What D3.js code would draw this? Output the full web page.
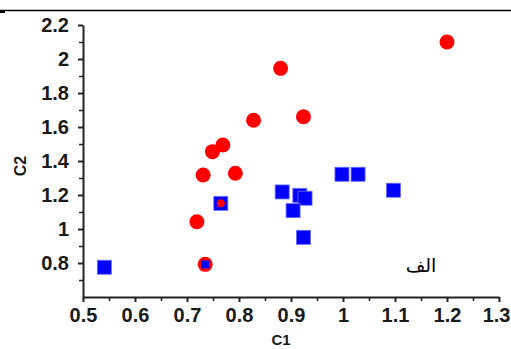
<!DOCTYPE html>
<html>
<head>
<meta charset="utf-8">
<script src="https://cdn.jsdelivr.net/npm/d3@7/dist/d3.min.js"></script>
<style>
  body { margin: 0; background: #fff; }
  svg { display: block; }
</style>
</head>
<body>
<div id="chrt"></div>
<script>
// data
const redPoints = [
  [1.2, 2.1], [0.88, 1.945], [0.924, 1.66], [0.828, 1.64], [0.769, 1.494], [0.749, 1.455],
  [0.731, 1.318], [0.793, 1.328], [0.719, 1.043], [0.735, 0.792]
];
const bluePoints = [
  [0.541, 0.775], [0.765, 1.151], [0.998, 1.322], [1.029, 1.322], [0.883, 1.218], [0.917, 1.198],
  [0.927, 1.181], [0.904, 1.108], [0.924, 0.951], [1.097, 1.228]
];
// small markers drawn on top of overlapping points
const redSmallPoints = [[0.765, 1.151]];
const blueSmallPoints = [[0.735, 0.792]];

const xTicks = [0.5, 0.6, 0.7, 0.8, 0.9, 1, 1.1, 1.2, 1.3];
const xMinorTicks = [0.55, 0.65, 0.75, 0.85, 0.95, 1.05, 1.15, 1.25];
const yTicks = [0.8, 1, 1.2, 1.4, 1.6, 1.8, 2, 2.2];
const yMinorTicks = [0.7, 0.9, 1.1, 1.3, 1.5, 1.7, 1.9, 2.1];
const xTitle = 'C1';
const yTitle = 'C2';
const noteText = 'الف';

const width = 511, height = 349;
const scaleX = d3.scaleLinear().domain([0.5, 1.3]).range([83, 499]);
const scaleY = d3.scaleLinear().domain([0.6, 2.2]).range([297, 25]);

const svg = d3.select('#chrt').append('svg')
    .attr('width', width)
    .attr('height', height);

// top rule line
svg.append('line')
    .attr('x1', 0).attr('x2', width)
    .attr('y1', 10.5).attr('y2', 10.5)
    .attr('stroke', '#000').attr('stroke-width', 1.5);
svg.append('rect')
    .attr('x', 0).attr('y', 10).attr('width', 5).attr('height', 3)
    .attr('fill', '#000');

const axisFont = (g) => g.selectAll('text')
    .attr('font-family', '"Liberation Sans", Arial, sans-serif')
    .attr('font-size', 20)
    .attr('font-weight', 'bold')
    .attr('fill', '#1a1a1a');

// minor ticks first
svg.append('g')
    .attr('transform', 'translate(0,297)')
    .call(d3.axisBottom(scaleX).tickValues(xMinorTicks).tickSize(4).tickFormat(''))
    .call((g) => g.select('.domain').remove())
    .selectAll('line').attr('stroke', '#222').attr('stroke-width', 1.5);
svg.append('g')
    .attr('transform', 'translate(83,0)')
    .call(d3.axisLeft(scaleY).tickValues(yMinorTicks).tickSize(4).tickFormat(''))
    .call((g) => g.select('.domain').remove())
    .selectAll('line').attr('stroke', '#222').attr('stroke-width', 1.5);

// major axes
const xAxis = svg.append('g')
    .attr('transform', 'translate(0,297)')
    .call(d3.axisBottom(scaleX).tickValues(xTicks).tickSize(5).tickSizeOuter(0).tickPadding(6).tickFormat(d3.format('')))
    .call(axisFont);
xAxis.selectAll('line, path').attr('stroke', '#222').attr('stroke-width', 2);
// keep the last label inside the page
xAxis.selectAll('.tick text').filter((d) => d === 1.3)
    .attr('text-anchor', 'end')
    .attr('x', width - 1 - scaleX(1.3));

const yAxis = svg.append('g')
    .attr('transform', 'translate(83,0)')
    .call(d3.axisLeft(scaleY).tickValues(yTicks).tickSize(5).tickSizeOuter(0).tickPadding(9).tickFormat(d3.format('')))
    .call(axisFont);
yAxis.selectAll('line, path').attr('stroke', '#222').attr('stroke-width', 2);

// axis titles
svg.append('text')
    .attr('x', 281).attr('y', 345)
    .attr('text-anchor', 'middle')
    .attr('font-family', '"Liberation Sans", Arial, sans-serif')
    .attr('font-size', 15).attr('font-weight', 'bold').attr('fill', '#1a1a1a')
    .text(xTitle);
svg.append('text')
    .attr('transform', 'translate(26,166) rotate(-90)')
    .attr('text-anchor', 'middle')
    .attr('font-family', '"Liberation Sans", Arial, sans-serif')
    .attr('font-size', 16).attr('font-weight', 'bold').attr('fill', '#1a1a1a')
    .text(yTitle);

// points
svg.append('g').selectAll('circle')
    .data(redPoints)
    .enter().append('circle')
    .attr('cx', (d) => scaleX(d[0]))
    .attr('cy', (d) => scaleY(d[1]))
    .attr('r', 7.5)
    .attr('fill', '#ff0000');

const sq = 14;
svg.append('g').selectAll('rect')
    .data(bluePoints)
    .enter().append('rect')
    .attr('x', (d) => scaleX(d[0]) - sq / 2)
    .attr('y', (d) => scaleY(d[1]) - sq / 2)
    .attr('width', sq).attr('height', sq)
    .attr('fill', '#0000ff')
    .attr('stroke', '#6a6aff').attr('stroke-width', 0.8);

svg.append('g').selectAll('circle')
    .data(redSmallPoints)
    .enter().append('circle')
    .attr('cx', (d) => scaleX(d[0]))
    .attr('cy', (d) => scaleY(d[1]))
    .attr('r', 4)
    .attr('fill', '#ff0000');

const sqSmall = 8;
svg.append('g').selectAll('rect')
    .data(blueSmallPoints)
    .enter().append('rect')
    .attr('x', (d) => scaleX(d[0]) - sqSmall / 2)
    .attr('y', (d) => scaleY(d[1]) - sqSmall / 2)
    .attr('width', sqSmall).attr('height', sqSmall)
    .attr('fill', '#0000ff');

// arabic note
svg.append('text')
    .attr('x', 421).attr('y', 272)
    .attr('text-anchor', 'middle')
    .attr('font-family', '"DejaVu Sans", sans-serif')
    .attr('font-size', 19)
    .attr('fill', '#000')
    .text(noteText);
</script>
</body>
</html>
